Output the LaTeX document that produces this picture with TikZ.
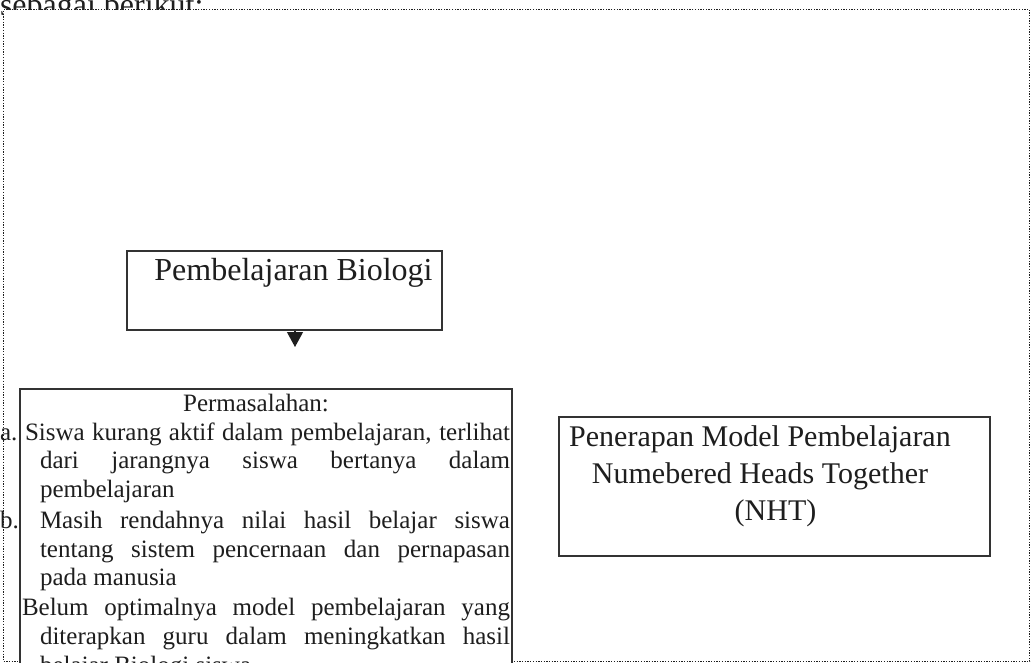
\documentclass[tikz,border=0pt]{standalone}
\usepackage{fontspec}
\setmainfont{Liberation Serif}
\usetikzlibrary{arrows.meta}
\definecolor{ink}{HTML}{1E1E1E}
\definecolor{boxline}{HTML}{333333}
\tikzset{
  txt/.style={inner sep=0pt, outer sep=0pt, text=ink},
  big/.style={txt, font=\fontsize{30}{36}\selectfont},
  bigger/.style={txt, font=\fontsize{32}{38}\selectfont},
  body/.style={txt, font=\fontsize{25}{29}\selectfont, anchor=base west},
  solidbox/.style={draw=boxline, line width=1.5pt, fill=white, inner sep=0pt, anchor=north west},
  framebox/.style={draw=ink, line width=1.2pt, dash pattern=on 1.3pt off 1.4pt, fill=white, inner sep=0pt, anchor=north west}
}
\newcommand{\jline}[2]{\makebox[#1pt][s]{#2}}
\begin{document}
\begin{tikzpicture}[x=1pt,y=-1pt]
\useasboundingbox (0,0) rectangle (1033,663);
% heading text, partly hidden by the frame
\node[bigger, anchor=base west] (title) at (0,16) {sebagai berikut:};
% dotted frame
\node[framebox, minimum width=1026pt, minimum height=652pt] (frame) at (3,9) {};
% Pembelajaran Biologi
\node[solidbox, minimum width=315pt, minimum height=79pt] (bio) at (126,250) {};
\node[bigger, anchor=base] (biotext) at (293.5,280) {Pembelajaran Biologi};
\coordinate (arrowend) at (295,347);
\draw[draw=ink, line width=1.2pt, -{Triangle[length=15pt,width=16pt]}] (arrowend |- bio.south) -- (arrowend);
% Permasalahan box
\node[solidbox, minimum width=492pt, minimum height=330pt] (prob) at (19,388) {};
\node[body, anchor=base] (ph) at (256,411) {Permasalahan:};
\node[body] (la) at (0,440) {a.};
\node[body] (l1) at (25,440) {\jline{485}{Siswa kurang aktif dalam pembelajaran, terlihat}};
\node[body] (l2) at (40,468.5) {\jline{470}{dari jarangnya siswa bertanya dalam}};
\node[body] (l3) at (40,497) {pembelajaran};
\node[body] (lb) at (0,528) {b.};
\node[body] (l4) at (40,528) {\jline{470}{Masih rendahnya nilai hasil belajar siswa}};
\node[body] (l5) at (40,557) {\jline{470}{tentang sistem pencernaan dan pernapasan}};
\node[body] (l6) at (40,585.5) {pada manusia};
\node[body] (l7) at (22,615) {\jline{488}{Belum optimalnya model pembelajaran yang}};
\node[body] (l8) at (40,644) {\jline{470}{diterapkan guru dalam meningkatkan hasil}};
\node[body] (l9) at (40,673) {belajar Biologi siswa};
% NHT box
\node[solidbox, minimum width=431pt, minimum height=139pt] (nht) at (558,416) {};
\node[big, anchor=base] (n1) at (760,446) {Penerapan Model Pembelajaran};
\node[big, anchor=base] (n2) at (760,483) {Numebered Heads Together};
\node[big, anchor=base] (n3) at (775.5,520) {(NHT)};
\end{tikzpicture}
\end{document}
